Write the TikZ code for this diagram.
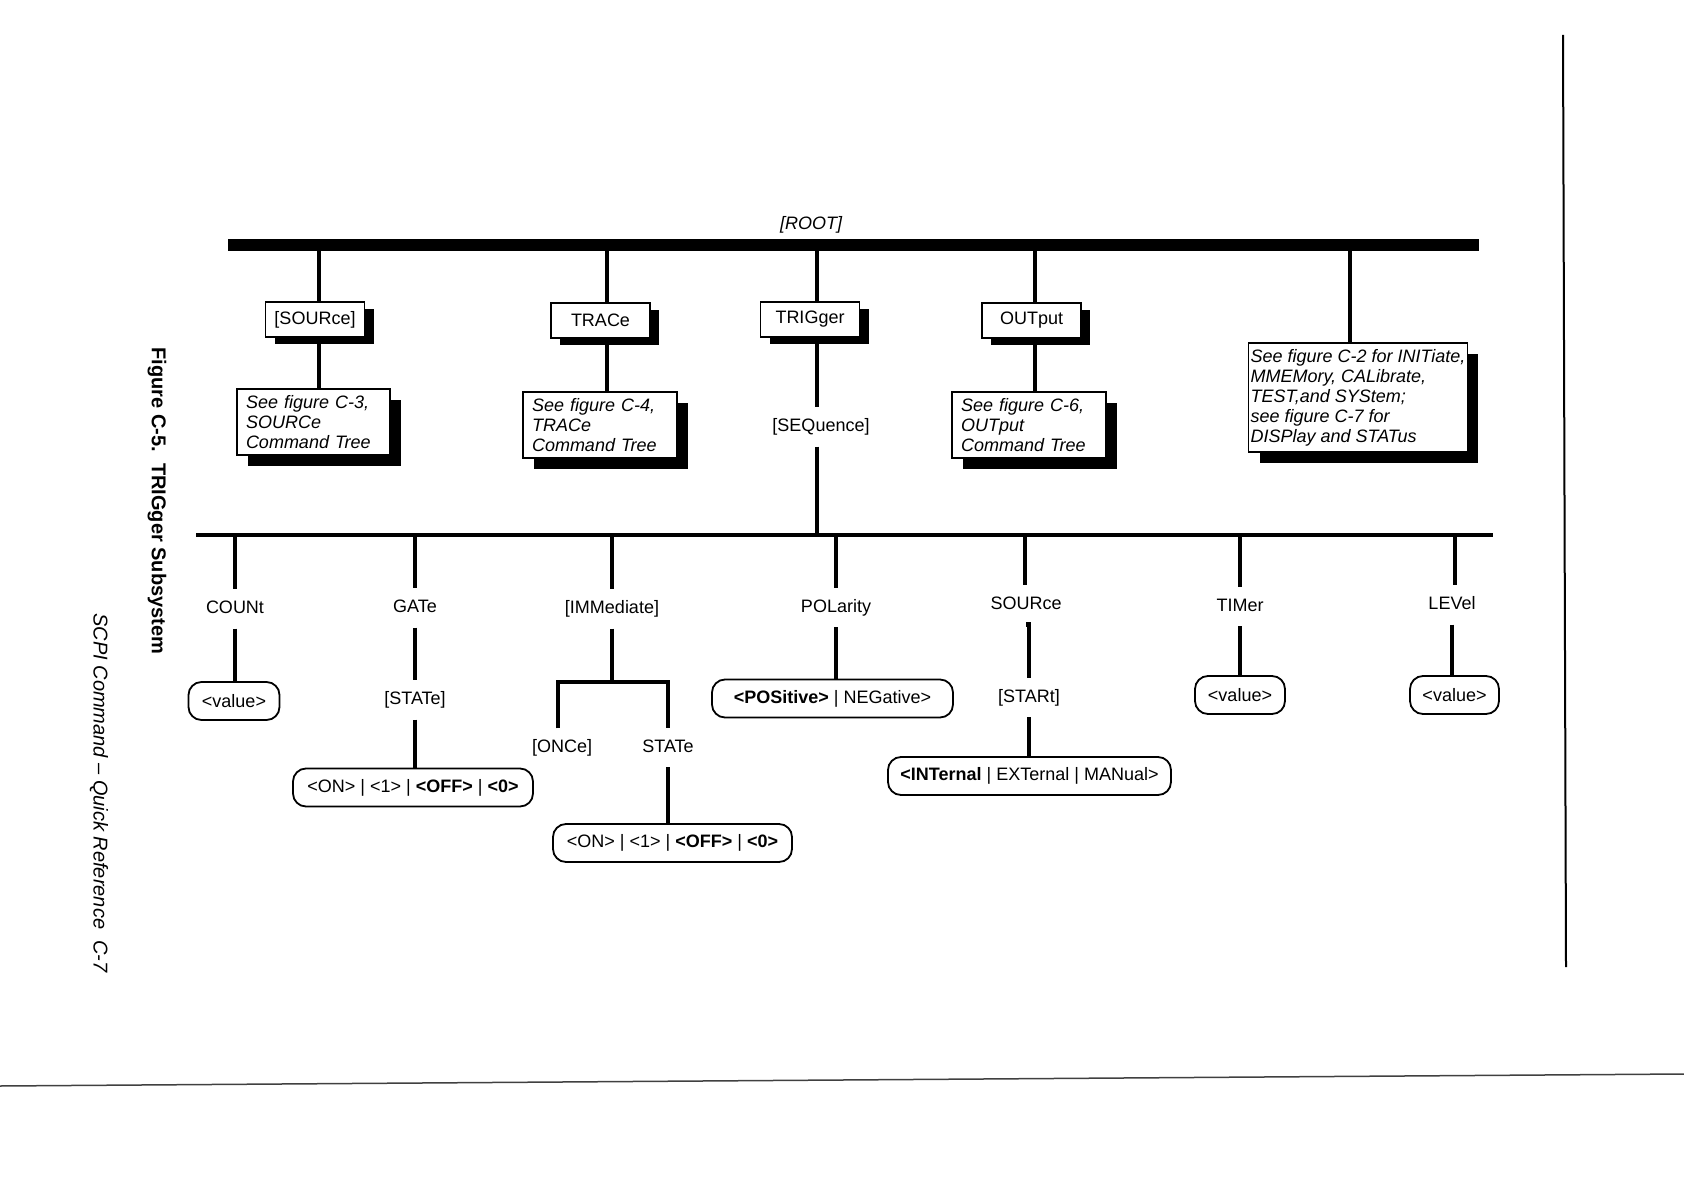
\documentclass[tikz,border=0pt]{standalone}
\usepackage{fontspec}
\setmainfont{Liberation Sans}
\usetikzlibrary{shadows}
\begin{document}
\begin{tikzpicture}[x=1pt,y=-1pt,
  every node/.style={font=\fontsize{18}{20}\selectfont, inner sep=0pt},
  bar/.style={line width=12pt},
  conn/.style={line width=4.8pt},
  lbar/.style={line width=4.5pt},
  lconn/.style={line width=4.5pt},
  cmdbox/.style={draw, line width=1.6pt, fill=white, minimum width=99pt, minimum height=35pt,
    drop shadow={shadow xshift=9pt, shadow yshift=-7pt, opacity=1, fill=black}},
  seebox/.style={draw, line width=1.6pt, fill=white, align=left, inner xsep=9pt,
    font=\itshape\fontsize{18}{20}\selectfont,
    drop shadow={shadow xshift=11pt, shadow yshift=-11pt, opacity=1, fill=black}},
  lbl/.style={text height=13pt, text depth=4pt, inner ysep=11pt, inner xsep=2pt},
  valbox/.style={draw, line width=1.8pt, rounded corners=13pt, minimum height=38pt, fill=white},
  pageline/.style={line width=2pt},
]
\useasboundingbox (0,0) rectangle (1684,1190);
\fill[white] (0,0) rectangle (1684,1190);

% page frame lines
\coordinate (pA) at (1563,35);
\coordinate (pB) at (1566,967);
\draw[pageline] (pA) -- (pB);
\coordinate (fA) at (0,1086);
\coordinate (fB) at (1684,1074);
\draw[line width=1.5pt, black!75] (fA) -- (fB);

% rotated captions
\node[rotate=-90, font=\bfseries\fontsize{20}{22}\selectfont] (title) at (157,501) {Figure C-5.\ \ TRIGger Subsystem};
\node[rotate=-90, font=\itshape\fontsize{20}{22}\selectfont] (foot) at (99,793) {SCPI Command – Quick Reference\ \ C-7};

% root bar
\node[font=\itshape\fontsize{18}{20}\selectfont] (root) at (811,225) {[ROOT]};
\coordinate (barL) at (228,245);
\coordinate (barR) at (1479,245);
\draw[bar] (barL) -- (barR);
\coordinate (r1) at (319,245);
\coordinate (r2) at (607,245);
\coordinate (r3) at (817,245);
\coordinate (r4) at (1035,245);
\coordinate (r5) at (1350,245);

% level-1 boxes
\node[cmdbox] (src) at (315,319.5) {[SOURce]};
\node[cmdbox] (trc) at (600.5,320.5) {TRACe};
\node[cmdbox] (trg) at (810,319.5) {TRIGger};
\node[cmdbox] (out) at (1031.5,320.5) {OUTput};

% see-figure boxes
\node[seebox, text width=135pt, minimum height=66pt] (see3) at (313.5,422) {See figure C-3,\\SOURCe\\Command Tree};
\node[seebox, text width=136pt, minimum height=66pt] (see4) at (600,425) {See figure C-4,\\TRACe\\Command Tree};
\node[seebox, text width=136pt, minimum height=66pt] (see6) at (1029,425) {See figure C-6,\\OUTput\\Command Tree};
\node[seebox, inner xsep=2pt, minimum width=218pt, minimum height=109pt] (see2) at (1358,397.5)
  {See figure C-2 for INITiate,\\MMEMory, CALibrate,\\TEST,and SYStem;\\see figure C-7 for\\DISPlay and STATus};

\node[lbl] (seq) at (821,427) {[SEQuence]};

% top connectors
\draw[conn] (r1) -- (r1 |- src.north);
\draw[conn] (src.south -| r1) -- (r1 |- see3.north);
\draw[conn] (r2) -- (r2 |- trc.north);
\draw[conn] (trc.south -| r2) -- (r2 |- see4.north);
\draw[conn] (r3) -- (r3 |- trg.north);
\draw[conn] (trg.south -| r3) -- (r3 |- seq.north);
\draw[conn] (r4) -- (r4 |- out.north);
\draw[conn] (out.south -| r4) -- (r4 |- see6.north);
\draw[conn] (r5) -- (r5 |- see2.north);

% lower bar
\coordinate (lbL) at (196,535);
\coordinate (lbR) at (1493,535);
\draw[lbar] (lbL) -- (lbR);
\draw[conn] (seq.south -| r3) -- (r3 |- lbL);

\coordinate (d1) at (235,535);
\coordinate (d2) at (415,535);
\coordinate (d3) at (612,535);
\coordinate (d4) at (836,535);
\coordinate (d5) at (1025,535);
\coordinate (d6) at (1240,535);
\coordinate (d7) at (1455,535);

\node[lbl] (cnt) at (235,609) {COUNt};
\node[lbl] (gat) at (415,608) {GATe};
\node[lbl] (imm) at (612,609) {[IMMediate]};
\node[lbl] (pol) at (836,607.5) {POLarity};
\node[lbl] (srl) at (1026,605) {SOURce};
\node[lbl] (tim) at (1240,606.5) {TIMer};
\node[lbl] (lev) at (1452,605) {LEVel};

\draw[lconn] (d1) -- (d1 |- cnt.north);
\draw[lconn] (d2) -- (d2 |- gat.north);
\draw[lconn] (d3) -- (d3 |- imm.north);
\draw[lconn] (d4) -- (d4 |- pol.north);
\draw[lconn] (d5) -- (d5 |- srl.north);
\draw[lconn] (d6) -- (d6 |- tim.north);
\draw[lconn] (d7) -- (d7 |- lev.north);

% second-level labels
\node[lbl] (gst) at (415,700) {[STATe]};
\node[lbl] (once) at (562,748) {[ONCe]};
\node[lbl] (st2) at (668,747.5) {STATe};
\node[lbl] (sta) at (1029,697.5) {[STARt]};

% value boxes
\node[valbox, minimum width=91pt] (v1) at (234,701) {<value>};
\node[valbox, minimum width=240pt] (v2) at (413,787.5) {<ON> | <1> | \textbf{<OFF>} | \textbf{<0>}};
\node[valbox, minimum width=239pt] (v3) at (672.5,843) {<ON> | <1> | \textbf{<OFF>} | \textbf{<0>}};
\node[valbox, minimum width=241pt] (v4) at (832.5,698.5) {\textbf{<POSitive>} | NEGative>};
\node[valbox, minimum width=283pt] (v5) at (1029.5,776) {\textbf{<INTernal} | EXTernal | MANual>};
\node[valbox, minimum width=90pt] (v6) at (1240,695) {<value>};
\node[valbox, minimum width=89pt] (v7) at (1454.5,695) {<value>};

% lower connectors
\draw[lconn] (cnt.south) -- (cnt.south |- v1.north);
\draw[lconn] (gat.south) -- (gst.north);
\draw[lconn] (gst.south) -- (gst.south |- v2.north);
\coordinate (jL) at (558,682);
\coordinate (jR) at (668,682);
\draw[lconn] (imm.south) -- (imm.south |- jL);
\draw[lconn, line join=miter] (jL |- once.north) -- (jL) -- (jR) -- (jR |- st2.north);
\draw[lconn] (st2.south) -- (st2.south |- v3.north);
\draw[lconn] (pol.south) -- (pol.south |- v4.north);
\draw[lconn] (srl.south) -- (srl.south -| sta.north) -- (sta.north);
\draw[lconn] (sta.south) -- (sta.south |- v5.north);
\draw[lconn] (tim.south) -- (tim.south |- v6.north);
\draw[lconn] (lev.south) -- (lev.south |- v7.north);
\end{tikzpicture}
\end{document}
